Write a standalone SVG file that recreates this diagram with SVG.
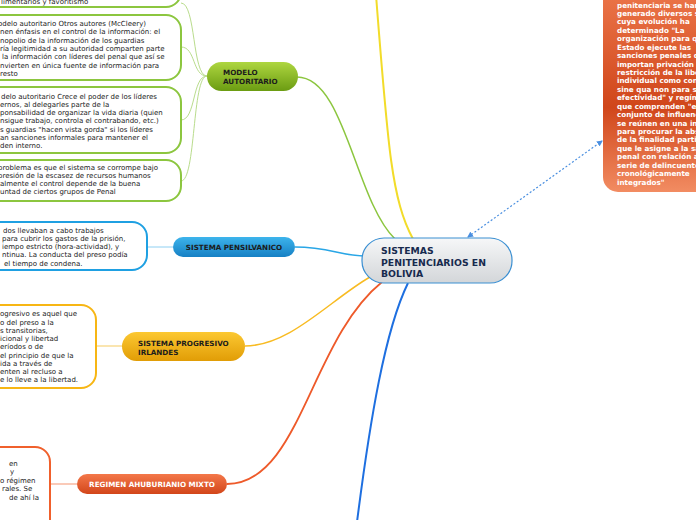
<svg xmlns="http://www.w3.org/2000/svg" width="696" height="520" viewBox="0 0 696 520">
<defs>
<linearGradient id="gCenter" x1="0" y1="0" x2="0" y2="1"><stop offset="0" stop-color="#f6f7f8"/><stop offset="1" stop-color="#d3d6d9"/></linearGradient>
<linearGradient id="gGreen" x1="0" y1="0" x2="0" y2="1"><stop offset="0" stop-color="#aed640"/><stop offset="1" stop-color="#6b9c12"/></linearGradient>
<linearGradient id="gBlue" x1="0" y1="0" x2="0" y2="1"><stop offset="0" stop-color="#3db4ec"/><stop offset="1" stop-color="#1680c4"/></linearGradient>
<linearGradient id="gGold" x1="0" y1="0" x2="0" y2="1"><stop offset="0" stop-color="#fcc832"/><stop offset="1" stop-color="#e19d06"/></linearGradient>
<linearGradient id="gOrange" x1="0" y1="0" x2="0" y2="1"><stop offset="0" stop-color="#f4784a"/><stop offset="1" stop-color="#d2461a"/></linearGradient>
<linearGradient id="gBig" x1="0" y1="0" x2="0" y2="1"><stop offset="0" stop-color="#ee7a4e"/><stop offset="0.6" stop-color="#d0461a"/><stop offset="1" stop-color="#f28c62"/></linearGradient>
<marker id="arr" viewBox="0 0 6 6" refX="5" refY="3" markerWidth="5" markerHeight="5" orient="auto-start-reverse"><path d="M0,0 L6,3 L0,6 z" fill="#4a8fe0"/></marker>
</defs>
<style>
.t{font-family:"DejaVu Sans",Verdana,sans-serif;font-size:7px;fill:#222}
.nl{font-family:"DejaVu Sans",Verdana,sans-serif;font-size:7.2px;font-weight:bold;fill:#1c1c1c}
.big{font-family:"DejaVu Sans",Verdana,sans-serif;font-size:7.2px;font-weight:bold;fill:#fff}
.box{fill:#fff;stroke-width:2}
.c{fill:none}
</style>
<g id="connectors">
<path class="c" d="M376,-5 C388,150 392,200 413,239" stroke="#f2dc2a" stroke-width="2"/>
<path class="c" d="M297,77 C345,77 355,200 395,239" stroke="#8cc63f" stroke-width="1.5"/>
<path class="c" d="M295,247 C330,247 340,256 366,256" stroke="#29a6e6" stroke-width="1.5"/>
<path class="c" d="M245,346 C290,346 330,300 370,277" stroke="#f8bb22" stroke-width="1.5"/>
<path class="c" d="M227,484 C300,484 310,340 382,282" stroke="#ee5a2a" stroke-width="1.8"/>
<path class="c" d="M408,283 C385,330 370,420 357,522" stroke="#1e6fe0" stroke-width="2"/>
<path class="c" d="M468,237 L602,141" stroke="#4a8fe0" stroke-width="1.2" stroke-dasharray="2,2" marker-start="url(#arr)" marker-end="url(#arr)"/>
<path class="c" d="M207,76 C192,76 196,3 181,3" stroke="#b9dc8c" stroke-width="1"/>
<path class="c" d="M207,76 C192,76 196,47 181,47" stroke="#b9dc8c" stroke-width="1"/>
<path class="c" d="M207,76 C192,76 196,120 181,120" stroke="#b9dc8c" stroke-width="1"/>
<path class="c" d="M207,76 C192,76 196,181 181,181" stroke="#b9dc8c" stroke-width="1"/>
<path class="c" d="M173,247 L147,247" stroke="#8fd0f2" stroke-width="1"/>
<path class="c" d="M122,346 L96,346" stroke="#f9dc96" stroke-width="1.5"/>
<path class="c" d="M77,484 L50,484" stroke="#f8b8a0" stroke-width="1.5"/>
</g>
<g id="center">
<rect x="362" y="238" width="150" height="45" rx="22" fill="url(#gCenter)" stroke="#3a8fd2" stroke-width="1.2"/>
<text style="font-family:'DejaVu Sans',Verdana,sans-serif;font-size:9.3px;font-weight:bold;fill:#172a4e"><tspan x="381" y="253.5">SISTEMAS</tspan><tspan x="381" y="265.5">PENITENCIARIOS EN</tspan><tspan x="381" y="277">BOLIVIA</tspan></text>
</g>
<g id="big-orange">
<rect x="603" y="-20" width="130" height="212" rx="15" fill="url(#gBig)"/>
<text class="big"><tspan x="617" y="7.5">penitenciaria se han</tspan><tspan x="617" y="15.9">generado diversos s</tspan><tspan x="617" y="24.4">cuya evolución ha</tspan><tspan x="617" y="32.8">determinado "La</tspan><tspan x="617" y="41.2">organización para q</tspan><tspan x="617" y="49.7">Estado ejecute las</tspan><tspan x="617" y="58.1">sanciones penales q</tspan><tspan x="617" y="66.5">importan privación d</tspan><tspan x="617" y="74.9">restricción de la libe</tspan><tspan x="617" y="83.4">individual como con</tspan><tspan x="617" y="91.8">sine qua non para su</tspan><tspan x="617" y="100.2">efectividad" y regím</tspan><tspan x="617" y="108.7">que comprenden "el</tspan><tspan x="617" y="117.1">conjunto de influenc</tspan><tspan x="617" y="125.5">se reúnen en una ins</tspan><tspan x="617" y="134">para procurar la abs</tspan><tspan x="617" y="142.4">de la finalidad partic</tspan><tspan x="617" y="150.8">que le asigne a la sa</tspan><tspan x="617" y="159.2">penal con relación a</tspan><tspan x="617" y="167.7">serie de delincuente</tspan><tspan x="617" y="176.1">cronológicamente</tspan><tspan x="617" y="184.5">integrados"</tspan></text>
</g>
<g id="modelo-autoritario">
<rect x="207" y="62" width="91" height="29" rx="14.5" fill="url(#gGreen)"/>
<text class="nl"><tspan x="223" y="75">MODELO</tspan><tspan x="223" y="83.5">AUTORITARIO</tspan></text>
</g>
<g id="green-box-1">
<rect class="box" x="-30" y="-40" width="211" height="47" rx="15" stroke="#8cc63f"/>
<text class="t" x="1" y="4">limentarios y favoritismo</text>
</g>
<g id="green-box-2">
<rect class="box" x="-30" y="15" width="211" height="65" rx="15" stroke="#8cc63f"/>
<text class="t"><tspan x="-2" y="26">odelo autoritario Otros autores (McCleery)</tspan><tspan x="0" y="34.3">nen énfasis en el control de la información: el</tspan><tspan x="0" y="42.6">nopolio de la información de los guardias</tspan><tspan x="0" y="50.9">ría legitimidad a su autoridad comparten parte</tspan><tspan x="2" y="59.2">la información con líderes del penal que así se</tspan><tspan x="0" y="67.5">nvierten en única fuente de información para</tspan><tspan x="0" y="75.8">resto</tspan></text>
</g>
<g id="green-box-3">
<rect class="box" x="-30" y="87" width="211" height="66" rx="15" stroke="#8cc63f"/>
<text class="t"><tspan x="1" y="98.5">delo autoritario Crece el poder de los líderes</tspan><tspan x="0" y="106.8">ernos, al delegarles parte de la</tspan><tspan x="0" y="115.1">ponsabilidad de organizar la vida diaria (quien</tspan><tspan x="0" y="123.4">nsigue trabajo, controla el contrabando, etc.)</tspan><tspan x="0" y="131.7">s guardias "hacen vista gorda" si los líderes</tspan><tspan x="0" y="140">an sanciones informales para mantener el</tspan><tspan x="0" y="148.3">den interno.</tspan></text>
</g>
<g id="green-box-4">
<rect class="box" x="-30" y="160" width="211" height="41" rx="15" stroke="#8cc63f"/>
<text class="t"><tspan x="-2" y="169.5">problema es que el sistema se corrompe bajo</tspan><tspan x="-2" y="177.8">presión de la escasez de recursos humanos</tspan><tspan x="0" y="186.1">almente el control depende de la buena</tspan><tspan x="0" y="194.4">untad de ciertos grupos de Penal</tspan></text>
</g>
<g id="sistema-pensilvanico">
<rect x="173" y="237" width="122" height="20" rx="10" fill="url(#gBlue)"/>
<text class="nl" x="234" y="249.6" text-anchor="middle">SISTEMA PENSILVANICO</text>
</g>
<g id="blue-box">
<rect class="box" x="-30" y="222" width="177" height="48" rx="15" stroke="#1fa0e2"/>
<text class="t"><tspan x="3" y="232.5">dos llevaban a cabo trabajos</tspan><tspan x="2" y="240.8">para cubrir los gastos de la prisión,</tspan><tspan x="2" y="249.1">iempo estricto (hora-actividad), y</tspan><tspan x="2" y="257.4">ntinua. La conducta del preso podía</tspan><tspan x="4" y="265.7">el tiempo de condena.</tspan></text>
</g>
<g id="sistema-progresivo">
<rect x="122" y="332" width="123" height="29" rx="14.5" fill="url(#gGold)"/>
<text class="nl"><tspan x="138" y="345.5">SISTEMA PROGRESIVO</tspan><tspan x="138" y="354.5">IRLANDES</tspan></text>
</g>
<g id="gold-box">
<rect class="box" x="-30" y="305" width="126" height="83" rx="15" stroke="#f7b614"/>
<text class="t"><tspan x="0" y="316.2">ogresivo es aquel que</tspan><tspan x="0" y="324.5">o del preso a la</tspan><tspan x="0" y="332.7">s transitorias,</tspan><tspan x="0" y="341">icional y libertad</tspan><tspan x="0" y="349.2">eríodos o de</tspan><tspan x="0" y="357.5">el principio de que la</tspan><tspan x="0" y="365.7">ida a través de</tspan><tspan x="0" y="374">enten al recluso a</tspan><tspan x="0" y="382.2">e lo lleve a la libertad.</tspan></text>
</g>
<g id="regimen-mixto">
<rect x="77" y="474" width="150" height="20" rx="10" fill="url(#gOrange)"/>
<text class="big" x="152" y="486.6" text-anchor="middle">REGIMEN AHUBURIANIO MIXTO</text>
</g>
<g id="orange-box">
<rect class="box" x="-30" y="447" width="80" height="100" rx="15" stroke="#f0602c"/>
<text class="t"><tspan x="9" y="465.5">en</tspan><tspan x="10" y="474">y</tspan><tspan x="0" y="482.5">o régimen</tspan><tspan x="2" y="491">rales. Se</tspan><tspan x="9" y="499.5">de ahí la</tspan></text>
</g>
</svg>
